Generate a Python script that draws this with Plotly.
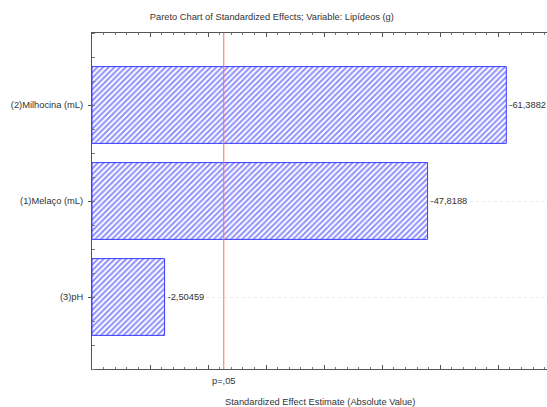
import plotly.graph_objects as go

categories = ["(2)Milhocina (mL)", "(1)Melaço (mL)", "(3)pH"]
effects = [-61.3882, -47.8188, -2.50459]
p_crit = 12.706
p_label = "p=,05"
title = "Pareto Chart of Standardized Effects; Variable: Lipídeos (g)"
x_title = "Standardized Effect Estimate (Absolute Value)"

x_min, x_max = -10, 68.4
ypos = list(range(len(categories)))
abs_vals = [abs(v) for v in effects]
texts = [str(v).replace(".", ",") for v in effects]

font_family = "Liberation Sans, Arial, sans-serif"
txt_color = "#333333"
fs = 9.3

fig = go.Figure()
fig.add_trace(go.Bar(
    orientation="h",
    y=ypos,
    x=[v - x_min for v in abs_vals],
    base=x_min,
    width=0.8,
    text=texts,
    textposition="outside",
    cliponaxis=False,
    textfont=dict(family=font_family, size=fs, color=txt_color),
    marker=dict(
        color="white",
        line=dict(color="#3c3cff", width=1),
        pattern=dict(shape="/", fgcolor="#1e1eff", bgcolor="white", size=4, solidity=0.5),
    ),
    hoverinfo="skip",
))

fig.add_shape(type="line", xref="x", yref="paper", x0=p_crit, x1=p_crit, y0=0, y1=1,
              line=dict(color="#ff6a6a", width=1))
fig.add_annotation(x=p_crit, xref="x", y=0, yref="paper", yanchor="top", yshift=-5,
                   text=p_label, showarrow=False,
                   font=dict(family=font_family, size=fs, color=txt_color))
fig.add_annotation(x=0.5, xref="paper", y=0, yref="paper", yanchor="middle", yshift=-33,
                   text=x_title, showarrow=False,
                   font=dict(family=font_family, size=fs, color=txt_color))

fig.update_layout(
    width=547, height=407,
    margin=dict(l=92, r=0, t=33, b=38, autoexpand=False),
    paper_bgcolor="white", plot_bgcolor="white",
    showlegend=False,
    font=dict(family=font_family, size=fs, color=txt_color),
    title=dict(text=title, x=0.497, xanchor="center", y=0.958, yanchor="middle",
               automargin=False,
               font=dict(family=font_family, size=fs, color=txt_color)),
)
fig.update_xaxes(
    range=[x_min, x_max], showgrid=False, zeroline=False, automargin=False,
    showline=True, linecolor="#555555", linewidth=1, mirror="ticks",
    ticks="inside", ticklen=4, tickcolor="#555555", tick0=0, dtick=10,
    showticklabels=False,
    minor=dict(ticks="inside", ticklen=2, dtick=2, tickcolor="#777777", showgrid=False),
)
fig.update_yaxes(
    range=[len(categories) - 0.25, -0.75], zeroline=False, automargin=False,
    tickvals=ypos, ticktext=categories,
    showline=True, linecolor="#555555", linewidth=1,
    ticks="outside", ticklen=3, tickcolor="#555555", ticklabelstandoff=3,
    showgrid=True, gridcolor="#ececec", griddash="dot", gridwidth=1,
    minor=dict(ticks="inside", ticklen=3, tick0=-0.75, dtick=0.25, tickcolor="#777777", showgrid=False),
    tickfont=dict(family=font_family, size=fs, color=txt_color),
)

fig.write_html("out.html", config={"displayModeBar": False},
               post_script="document.body.style.margin='0';")
